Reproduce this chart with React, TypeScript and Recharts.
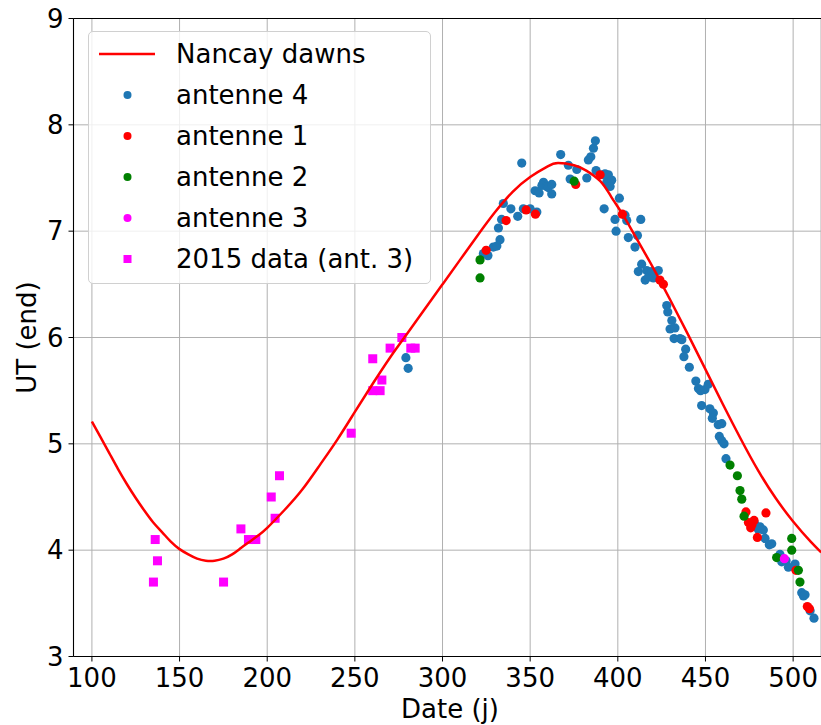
import React from 'react';
import {
  ComposedChart,
  XAxis,
  YAxis,
  CartesianGrid,
  Scatter,
  Line,
  ReferenceLine,
} from 'recharts';

// ---- Data ----
const dawnDays = [100, 105, 110, 115, 120, 125, 130, 135, 140, 145, 150, 155, 160, 165, 170, 175, 180, 185, 190, 195, 200, 210, 220, 230, 240, 250, 260, 270, 280, 290, 300, 310, 320, 330, 340, 350, 360, 366, 375, 382, 390, 396, 403, 410, 420, 430, 440, 450, 460, 470, 480, 490, 500, 510, 516];
const dawnUT = [5.21, 5.06, 4.91, 4.76, 4.62, 4.49, 4.37, 4.26, 4.17, 4.08, 4.01, 3.96, 3.92, 3.90, 3.90, 3.92, 3.96, 4.02, 4.08, 4.14, 4.21, 4.38, 4.57, 4.80, 5.04, 5.30, 5.56, 5.81, 6.04, 6.27, 6.50, 6.73, 6.96, 7.18, 7.37, 7.51, 7.61, 7.64, 7.62, 7.57, 7.47, 7.33, 7.15, 6.95, 6.66, 6.35, 6.03, 5.70, 5.37, 5.05, 4.75, 4.49, 4.27, 4.08, 3.98];

const ant4Days = [279.1, 280.4, 323.3, 325.9, 329.0, 331.0, 332.8, 331.9, 333.7, 334.7, 339.0, 342.9, 345.2, 346.1, 350.0, 353.8, 352.8, 355.1, 357.6, 356.7, 359.5, 360.3, 362.3, 362.3, 367.4, 371.8, 372.8, 376.6, 382.3, 383.2, 384.6, 386.1, 387.2, 387.6, 391.8, 392.7, 393.7, 394.6, 396.5, 395.6, 392.2, 400.9, 398.4, 399.0, 404.1, 405.1, 406.0, 411.2, 409.8, 413.1, 413.6, 411.7, 416.5, 418.4, 415.6, 420.3, 423.1, 417.5, 419.5, 427.9, 428.5, 430.8, 429.8, 432.6, 432.1, 435.5, 436.5, 438.7, 437.7, 440.8, 444.5, 446.0, 447.2, 449.7, 451.6, 447.8, 452.5, 454.5, 453.9, 457.3, 459.3, 457.9, 459.3, 460.6, 461.7, 478.0, 480.0, 481.1, 483.0, 484.0, 486.4, 487.8, 492.5, 493.5, 496.0, 497.3, 501.1, 504.9, 505.9, 506.8, 509.7, 511.9];
const ant4UT = [5.81, 5.71, 6.79, 6.77, 6.85, 6.86, 6.92, 7.03, 7.11, 7.26, 7.21, 7.14, 7.64, 7.21, 7.21, 7.18, 7.38, 7.36, 7.46, 7.43, 7.42, 7.41, 7.44, 7.35, 7.72, 7.62, 7.49, 7.58, 7.50, 7.67, 7.70, 7.78, 7.85, 7.57, 7.53, 7.54, 7.46, 7.53, 7.48, 7.42, 7.21, 7.31, 7.11, 7.00, 7.15, 7.10, 6.94, 6.96, 6.85, 7.11, 6.69, 6.62, 6.63, 6.60, 6.54, 6.56, 6.63, 6.57, 6.62, 6.30, 6.24, 6.16, 6.08, 6.09, 5.99, 5.99, 5.98, 5.89, 5.82, 5.72, 5.59, 5.52, 5.50, 5.51, 5.56, 5.36, 5.33, 5.29, 5.24, 5.18, 5.19, 5.07, 5.03, 5.00, 4.86, 4.25, 4.20, 4.22, 4.19, 4.11, 4.05, 4.06, 3.96, 3.89, 3.90, 3.84, 3.87, 3.60, 3.57, 3.58, 3.43, 3.36];

const ant1Days = [324.9, 336.3, 347.7, 353.0, 376.0, 389.9, 402.6, 424.0, 426.0, 473.1, 474.5, 475.8, 477.7, 476.5, 479.6, 484.5, 501.6, 508.1, 509.3];
const ant1UT = [6.82, 7.10, 7.20, 7.16, 7.44, 7.53, 7.16, 6.54, 6.50, 4.36, 4.26, 4.21, 4.28, 4.24, 4.12, 4.35, 3.81, 3.47, 3.45];

const ant2Days = [321.4, 321.4, 375.1, 464.0, 468.2, 469.7, 470.7, 472.0, 490.6, 499.2, 499.2, 503.0, 503.9];
const ant2UT = [6.73, 6.56, 7.47, 4.80, 4.70, 4.56, 4.48, 4.32, 3.93, 4.11, 4.00, 3.81, 3.70];

const ant3Days = [495.0];
const ant3UT = [3.92];

const data2015Days = [135.1, 136.1, 137.4, 175.1, 185.0, 189.3, 193.5, 202.3, 204.5, 207.0, 247.9, 260.2, 260.2, 264.4, 265.4, 270.1, 276.8, 281.9, 284.4];
const data2015UT = [3.7, 4.1, 3.9, 3.7, 4.2, 4.1, 4.1, 4.5, 4.3, 4.7, 5.1, 5.8, 5.5, 5.5, 5.6, 5.9, 6.0, 5.9, 5.9];

const xTicks = [100, 150, 200, 250, 300, 350, 400, 450, 500];
const yTicks = [3, 4, 5, 6, 7, 8, 9];

const zip = (xs: number[], ys: number[]) => xs.map((x, i) => ({ x, y: ys[i] }));

const dawnData = zip(dawnDays, dawnUT);
const ant4Data = zip(ant4Days, ant4UT);
const ant1Data = zip(ant1Days, ant1UT);
const ant2Data = zip(ant2Days, ant2UT);
const ant3Data = zip(ant3Days, ant3UT);
const data2015 = zip(data2015Days, data2015UT);

const FONT = '"DejaVu Sans", sans-serif';
const C_BLUE = '#1f77b4';
const C_RED = '#ff0000';
const C_GREEN = '#008000';
const C_MAG = '#ff00ff';

const dot = (color: string) => (props: any) => {
  if (props.cx == null || props.cy == null) return <g />;
  return <circle cx={props.cx} cy={props.cy} r={4.6} fill={color} />;
};
const square = (color: string) => (props: any) => {
  if (props.cx == null || props.cy == null) return <g />;
  return <rect x={props.cx - 4.5} y={props.cy - 4.5} width={9} height={9} fill={color} />;
};

const legendItems = [
  { label: 'Nancay dawns', kind: 'line', color: C_RED },
  { label: 'antenne 4', kind: 'dot', color: C_BLUE },
  { label: 'antenne 1', kind: 'dot', color: C_RED },
  { label: 'antenne 2', kind: 'dot', color: C_GREEN },
  { label: 'antenne 3', kind: 'dot', color: C_MAG },
  { label: '2015 data (ant. 3)', kind: 'square', color: C_MAG },
];

const LegendBox = () => (
  <div
    style={{
      position: 'absolute',
      left: 88,
      top: 31,
      width: 343,
      height: 253,
      boxSizing: 'border-box',
      border: '1px solid #d0d0d0',
      borderRadius: 5,
      background: 'rgba(255,255,255,0.8)',
      fontFamily: FONT,
      fontSize: 26,
      color: '#000',
    }}
  >
    {legendItems.map((it, i) => {
      const cy = 22 + i * 41;
      return (
        <div key={it.label} style={{ position: 'absolute', left: 0, top: cy - 16, height: 32, width: '100%' }}>
          <svg width={80} height={32} style={{ position: 'absolute', left: 0, top: 0 }}>
            {it.kind === 'line' && <line x1={10} x2={66} y1={16} y2={16} stroke={it.color} strokeWidth={2.5} />}
            {it.kind === 'dot' && <circle cx={38.5} cy={16} r={4} fill={it.color} />}
            {it.kind === 'square' && <rect x={34.5} y={12} width={8} height={8} fill={it.color} />}
          </svg>
          <span style={{ position: 'absolute', left: 87, top: 0, lineHeight: '32px', whiteSpace: 'nowrap' }}>{it.label}</span>
        </div>
      );
    })}
  </div>
);

export default function App() {
  return (
    <div style={{ position: 'absolute', left: 0, top: 0, width: 821, height: 725, background: '#fff', overflow: 'hidden' }}>
      <ComposedChart
        width={821}
        height={725}
        margin={{ top: 18.5, right: 0, bottom: 0, left: 0 }}
        style={{ fontFamily: FONT }}
      >
        <CartesianGrid stroke="#b0b0b0" strokeWidth={1} />
        <XAxis
          type="number"
          dataKey="x"
          domain={[89.5, 515.9]}
          ticks={xTicks}
          allowDataOverflow
          height={68.5}
          tickSize={5}
          tickMargin={7}
          stroke="#000"
          tick={{ fill: '#000', fontSize: 26, fontFamily: FONT }}
          tickLine={{ stroke: '#000' }}
          axisLine={{ stroke: '#000', strokeWidth: 1.1 }}
          label={{
            content: () => (
              <text x={450} y={718} textAnchor="middle" fontSize={26} fontFamily={FONT} fill="#000">
                Date (j)
              </text>
            ),
          }}
        />
        <YAxis
          type="number"
          dataKey="y"
          domain={[3, 9]}
          ticks={yTicks}
          allowDataOverflow
          width={73.5}
          tickSize={5}
          tickMargin={5}
          stroke="#000"
          tick={{ fill: '#000', fontSize: 26, fontFamily: FONT }}
          tickLine={{ stroke: '#000' }}
          axisLine={{ stroke: '#000', strokeWidth: 1.1 }}
          label={{
            content: () => (
              <text x={0} y={0} transform="translate(36,337.5) rotate(-90)" textAnchor="middle" fontSize={26} fontFamily={FONT} fill="#000">
                UT (end)
              </text>
            ),
          }}
        />
        <ReferenceLine y={9} stroke="#000" strokeWidth={1.1} />
        <Scatter name="antenne 4" data={ant4Data} fill={C_BLUE} shape={dot(C_BLUE)} isAnimationActive={false} />
        <Scatter name="antenne 1" data={ant1Data} fill={C_RED} shape={dot(C_RED)} isAnimationActive={false} />
        <Scatter name="antenne 2" data={ant2Data} fill={C_GREEN} shape={dot(C_GREEN)} isAnimationActive={false} />
        <Scatter name="antenne 3" data={ant3Data} fill={C_MAG} shape={dot(C_MAG)} isAnimationActive={false} />
        <Scatter name="2015 data (ant. 3)" data={data2015} fill={C_MAG} shape={square(C_MAG)} isAnimationActive={false} />
        <Line
          data={dawnData}
          dataKey="y"
          type="natural"
          stroke={C_RED}
          strokeWidth={2.5}
          dot={false}
          activeDot={false}
          isAnimationActive={false}
          zIndex={700}
        />
      </ComposedChart>
      <LegendBox />
    </div>
  );
}
